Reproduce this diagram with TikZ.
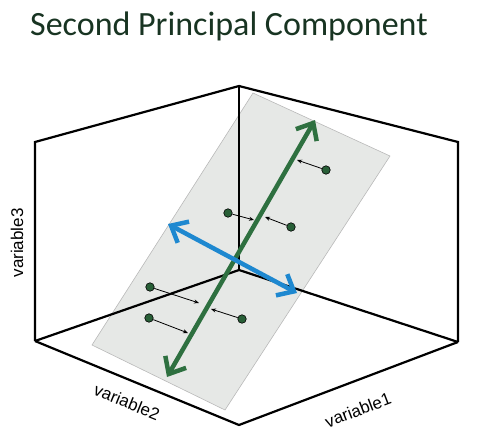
\documentclass[tikz,border=0pt]{standalone}
\usepackage{fontspec}
\setmainfont{Liberation Sans}
\newfontfamily\titlefont{Carlito}
\usetikzlibrary{arrows.meta}

\definecolor{pcgreen}{RGB}{46,112,64}
\definecolor{pcblue}{RGB}{30,136,208}
\definecolor{dotgreen}{RGB}{40,95,55}
\definecolor{planegray}{RGB}{230,232,230}
\definecolor{titlegreen}{RGB}{24,52,34}

\begin{document}
\begin{tikzpicture}[x=1pt,y=-1pt,
		boxedge/.style={line width=2.2pt,black},
		pcarrow/.style={line width=4.5pt,{Straight Barb[length=14pt,width=24pt]}-{Straight Barb[length=14pt,width=24pt]}},
		projarrow/.style={line width=0.8pt,-{Stealth[length=5pt,width=4pt]}},
		datapoint/.style={circle,draw=black,line width=0.6pt,fill=dotgreen,inner sep=0pt,minimum size=8.5pt},
		axislabel/.style={font=\fontsize{17}{20}\selectfont,inner sep=0pt}]
			\useasboundingbox (0,0) rectangle (500,442);

			% title
			\node (title) [anchor=base west,inner sep=0pt,text=titlegreen,font=\titlefont\fontsize{34}{40}\selectfont] at (30,35) {Second Principal Component};

			% box corners
			\coordinate (ltop) at (35,142);
			\coordinate (btop) at (239,86);
			\coordinate (rtop) at (458,142);
			\coordinate (lbot) at (35,341);
			\coordinate (bbot) at (239,270);
			\coordinate (rbot) at (458,342);
			\coordinate (fbot) at (239,425);

			% plane corners
			\coordinate (ptop) at (253,93);
			\coordinate (pright) at (390,156);
			\coordinate (pbot) at (225,410);
			\coordinate (pleft) at (92,345);

			\draw [fill=planegray,draw=gray!55,line width=0.6pt] (ptop) -- (pright) -- (pbot) -- (pleft) -- cycle;

			\draw [boxedge] (lbot) -- (ltop) -- (btop) -- (rtop) -- (rbot);
			\draw [boxedge] (btop) -- (bbot);
			\draw [boxedge] (lbot) -- (bbot) -- (rbot);
			\draw [boxedge] (lbot) -- (fbot) -- (rbot);

			% axis labels
			\node (var3) [axislabel,rotate=90] at (17,243) {variable3};
			\node (var2) [axislabel,rotate=-22] at (127,402) {variable2};
			\node (var1) [axislabel,rotate=21] at (358,410) {variable1};

			% data points
			\node (p1) [datapoint] at (326,170) {};
			\node (p2) [datapoint] at (228,213) {};
			\node (p3) [datapoint] at (291,227) {};
			\node (p4) [datapoint] at (150,287) {};
			\node (p5) [datapoint] at (242,319) {};
			\node (p6) [datapoint] at (149,318) {};

			\coordinate (t1) at (297,160);
			\coordinate (t2) at (254,220);
			\coordinate (t3) at (265,217);
			\coordinate (t4) at (199,303);
			\coordinate (t5) at (211,309);
			\coordinate (t6) at (188,333);

			\draw [projarrow] (p1) to (t1);
			\draw [projarrow] (p2) to (t2);
			\draw [projarrow] (p3) to (t3);
			\draw [projarrow] (p4) to (t4);
			\draw [projarrow] (p5) to (t5);
			\draw [projarrow] (p6) to (t6);

			% principal components
			\coordinate (g1) at (315,120);
			\coordinate (g2) at (167,377);
			\coordinate (b1) at (168,224);
			\coordinate (b2) at (297,293);

			\draw [pcarrow,pcgreen] (g2) to (g1);
			\draw [pcarrow,pcblue] (b1) to (b2);
		\end{tikzpicture}
\end{document}
